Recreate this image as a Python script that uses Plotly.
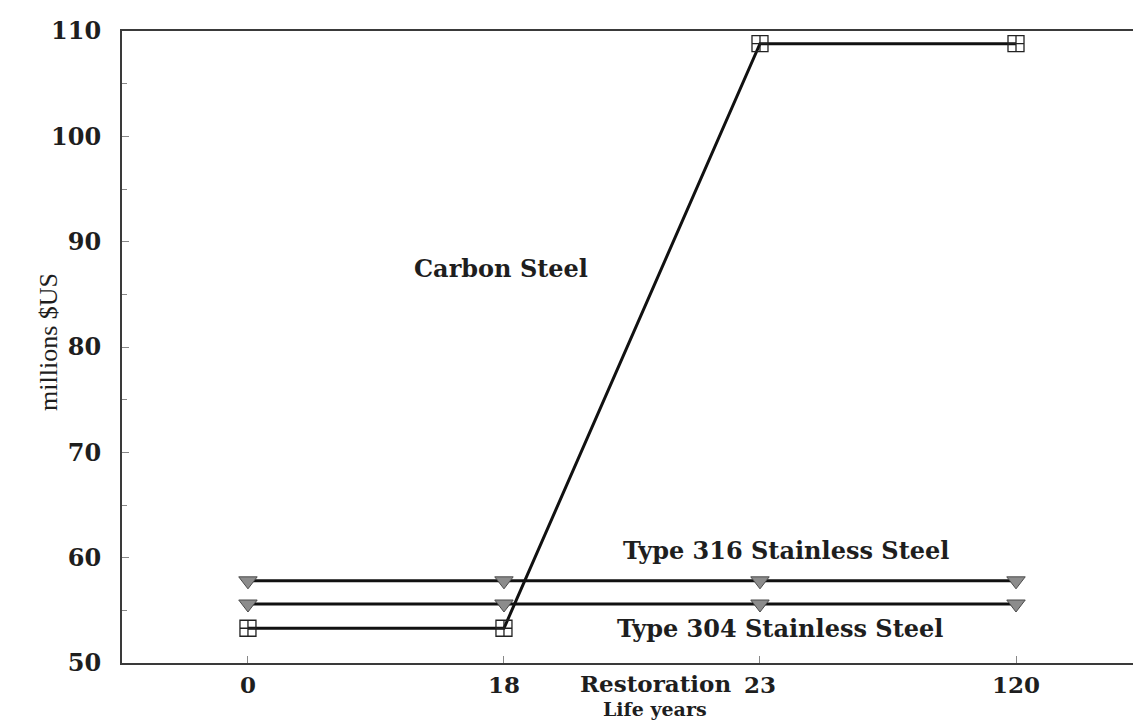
import plotly.graph_objects as go

x_labels = ["0", "18", "23", "120"]
x_idx = [0, 1, 2, 3]
carbon_steel = [53.3, 53.3, 108.8, 108.8]
type_316 = [57.8, 57.8, 57.8, 57.8]
type_304 = [55.6, 55.6, 55.6, 55.6]

BOLD = "DejaVu Serif"
REG = "Liberation Serif"
INK = "#1e1e1e"

fig = go.Figure()
tri_marker = dict(symbol="triangle-down", size=16, color="#8c8c8c",
                  line=dict(color="#4a4a4a", width=1))
fig.add_trace(go.Scatter(x=x_idx, y=type_316, mode="lines+markers",
                         line=dict(color="#111", width=3), marker=tri_marker,
                         name="Type 316 Stainless Steel"))
fig.add_trace(go.Scatter(x=x_idx, y=type_304, mode="lines+markers",
                         line=dict(color="#111", width=3), marker=tri_marker,
                         name="Type 304 Stainless Steel"))
fig.add_trace(go.Scatter(x=x_idx, y=carbon_steel, mode="lines+markers",
                         line=dict(color="#111", width=3),
                         marker=dict(symbol="square-cross-open", size=16, color="#222",
                                     line=dict(width=1.3)),
                         name="Carbon Steel"))

fig.update_layout(
    width=1133, height=721,
    margin=dict(l=122, r=0, t=31, b=58, autoexpand=False),
    paper_bgcolor="white", plot_bgcolor="white",
    showlegend=False,
    font=dict(family=BOLD, color=INK),
)
tickfont = dict(family=BOLD, size=23, color=INK, weight="bold")
fig.update_xaxes(
    automargin=False,
    range=[-0.492, 3.457], tickvals=x_idx, ticktext=x_labels,
    showline=True, linecolor="#3a3a3a", linewidth=2, mirror=True,
    ticks="inside", ticklen=7, tickcolor="#888", tickwidth=1,
    showgrid=False, zeroline=False, tickfont=tickfont,
)
fig.update_yaxes(
    automargin=False,
    range=[50, 110], dtick=10,
    showline=True, linecolor="#3a3a3a", linewidth=2,
    ticks="inside", ticklen=7, tickcolor="#888", tickwidth=1,
    minor=dict(dtick=5, ticks="inside", ticklen=5, tickcolor="#888"),
    showgrid=False, zeroline=False, tickfont=dict(tickfont, size=24),
    ticklabelstandoff=14,
)

ann_font = dict(family=BOLD, size=24, color=INK, weight="bold")
fig.add_annotation(x=0.99, y=87.5, xref="x", yref="y", text="Carbon Steel",
                   showarrow=False, font=ann_font)
fig.add_annotation(x=2.10, y=60.65, xref="x", yref="y", text="Type 316 Stainless Steel",
                   showarrow=False, font=ann_font)
fig.add_annotation(x=2.08, y=53.25, xref="x", yref="y", text="Type 304 Stainless Steel",
                   showarrow=False, font=ann_font)
fig.add_annotation(x=2.0, y=-0.032, xref="x", yref="paper", xanchor="right", yanchor="middle",
                   xshift=-28, borderpad=0, text="Restoration", showarrow=False, font=tickfont)
fig.add_annotation(x=1.59, y=-0.0915, xref="x", yref="paper", yanchor="bottom",
                   borderpad=0, text="Life years", showarrow=False,
                   font=dict(family=BOLD, size=19, color=INK, weight="bold"))
fig.add_annotation(x=-0.0722, y=0.508, xref="paper", yref="paper", textangle=-90,
                   xanchor="center", yanchor="middle",
                   text="millions $US", showarrow=False,
                   font=dict(family=REG, size=26, color=INK))

fig.write_html("out.html", config={"displayModeBar": False},
               post_script="document.body.style.margin='0';document.body.style.overflow='hidden';")
